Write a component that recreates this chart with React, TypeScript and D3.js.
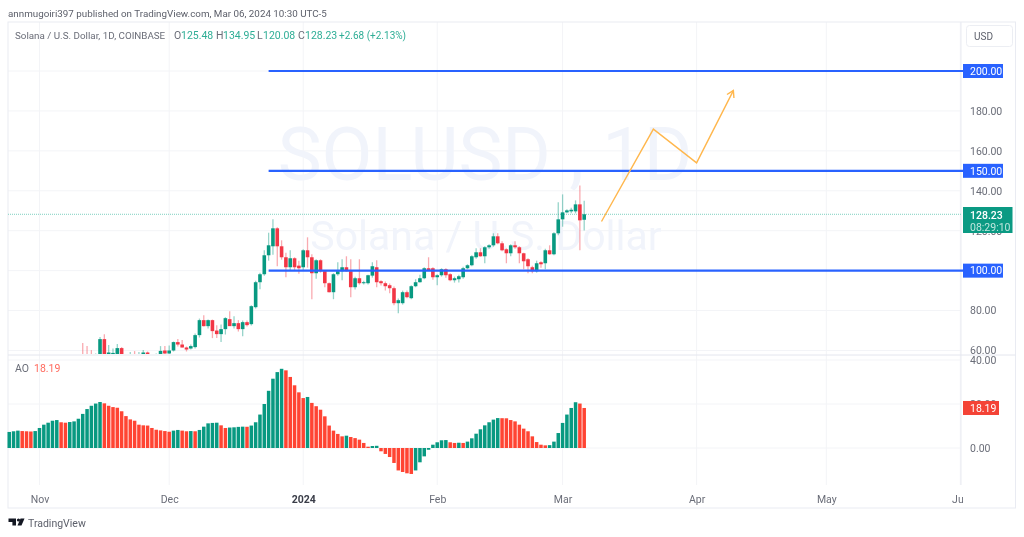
import { useRef, useEffect } from "react";
import * as d3 from "d3";

const FONT = "Roboto, sans-serif";
const GREEN = "#089981";
const RED = "#f23645";
const AO_RED = "#ff4433";
const BLUE = "#2962ff";
const GRID = "#f3f4f7";
const BORDER = "#e9ebf2";

const firstAoDate = new Date(Date.UTC(2023, 9, 25));
const firstCandleDate = new Date(Date.UTC(2023, 10, 11));

// daily candles from Nov 11, the earlier ones sit below the visible price range
const opens = [
  57, 57.5, 56, 55, 56, 65.7, 57.5, 57.5, 57, 61.2,
  55, 56, 57, 55.5, 57, 59, 57, 56.5, 58, 60,
  58.5, 60, 64.2, 63, 61.5, 61, 61.7, 67.7, 75.2, 72.2,
  75.2, 70, 68.2, 70.7, 75.7, 72.2, 73.7, 70.7, 74.2, 73.2,
  81.7, 94.2, 98.2, 107.7, 112.2, 121.2, 112.2, 106.7, 101.7, 106.2,
  102.5, 101.7, 110.2, 106.7, 98.7, 105.2, 99.7, 93.7, 89.2, 98.2,
  99.7, 101.7, 99.7, 91.7, 96.2, 93.7, 93.7, 97.5, 101.7, 94.7,
  93.7, 92.7, 91.2, 83.7, 83.7, 89.2, 86.2, 92.2, 94.2, 96.2,
  101.2, 101.2, 96.7, 97.7, 100.7, 98.2, 95.2, 95.7, 96.7, 101.2,
  102.7, 106.7, 109.2, 107.2, 111.7, 112.7, 117.2, 113.7, 110.7, 108.7,
  112.7, 111.7, 108.7, 105.7, 101.7, 99.7, 104.2, 103.7, 110.2, 108.2,
  118.7, 125.7, 129.2, 129.7, 129.7, 133.2, 125.48,
];
const highs = [
  63.8, 62.2, 60.2, 58.5, 66.7, 68.2, 62.7, 61, 63.2, 61.7,
  57.5, 59.2, 59.7, 59.2, 60.2, 59.5, 58.2, 58.5, 62.2, 62.2,
  62.5, 64.5, 65.7, 65.2, 62, 63, 68.5, 76, 77.7, 75.5,
  75.5, 72.7, 73, 76.7, 79.7, 77.2, 75.2, 75, 75, 82.7,
  95, 99, 110.2, 119, 125.7, 121.7, 115.2, 109, 110.2, 106.7,
  105, 110.7, 116.7, 108.2, 105.7, 105.7, 100, 94, 98.7, 104.2,
  105.7, 107.2, 105.7, 97, 105.7, 95, 98, 104.2, 105.2, 95.2,
  94.5, 93.5, 92, 86, 90, 90, 92.7, 95.7, 98, 101.7,
  106.7, 101.7, 98.2, 101.2, 101.2, 98.7, 97, 98, 102, 103.2,
  107.7, 111.2, 111.2, 112.2, 113.2, 118.7, 118.7, 114.7, 111.2, 113.2,
  114.7, 112.2, 109, 106.2, 102.5, 105, 104.7, 111, 112.7, 119.2,
  134.2, 138.2, 130.7, 131.5, 135.2, 142.7, 134.95,
];
const lows = [
  55, 55, 54, 54, 55, 55, 56, 56, 55, 56,
  53, 54, 54, 54, 55, 55, 54, 55, 57, 57,
  57, 59.5, 62, 61.5, 59.5, 60.5, 61, 66.5, 72, 71,
  66.2, 66.2, 64.2, 68, 73, 71, 69.5, 67.2, 72, 72.5,
  81, 90.7, 97.5, 105, 108, 102.2, 105.5, 96.7, 100, 100,
  98.5, 100, 101.5, 85.7, 96, 99, 91.7, 89, 85.7, 97.5,
  95.2, 99.5, 86.7, 90.5, 93, 93, 93, 96.5, 91.7, 92.5,
  90, 88.7, 82.7, 78.7, 83, 86.2, 85.7, 91.7, 94, 95.7,
  100, 95.5, 92.7, 97, 96.5, 94.7, 94, 94, 96, 100.7,
  102.2, 106, 107, 103.7, 111, 112, 113.2, 109.7, 103.7, 107.2,
  111, 103.7, 100.7, 98.7, 98.7, 99, 101.5, 100.7, 108, 107.7,
  117.7, 122, 128.7, 128.7, 128.7, 110.2, 120.08,
];
const closes = [
  56, 56, 55, 57, 65.7, 57.5, 59, 58.8, 61.2, 56.5,
  56, 57, 55.5, 57.5, 59, 57.5, 56.5, 58, 59.8, 58.5,
  60, 64.2, 63, 61.5, 60.5, 62.2, 67.7, 75.2, 72.2, 75.2,
  69.7, 68.2, 70.7, 76.2, 72.2, 73.7, 70.7, 74.2, 72.7, 82.2,
  94.2, 98.2, 107.7, 112.7, 121.2, 112.2, 106.7, 101.7, 106.2, 101.7,
  101.2, 110.2, 106.7, 98.7, 105.2, 99.7, 93.7, 89.2, 98.2, 99.7,
  101.7, 99.7, 91.7, 96.2, 93.7, 94.2, 97.7, 102.2, 94.2, 93.7,
  92.2, 91.2, 83.7, 85.2, 89.2, 86.7, 92.2, 94.2, 96.2, 101.2,
  100.2, 96.7, 97.7, 100.7, 97.7, 95.2, 96.2, 97.2, 101.2, 102.7,
  107.2, 109.2, 107.2, 111.7, 112.7, 117.2, 113.7, 110.2, 108.7, 112.7,
  111.7, 108.7, 104.7, 102.2, 99.7, 103.7, 103.2, 110.2, 108.2, 118.7,
  125.7, 129.2, 130.2, 130.5, 133.2, 125.2, 128.23,
];

// Awesome Oscillator, one value per day from Oct 25
const aoValues = [
  7.3, 7.6, 7.9, 7.7, 7.6, 7.5, 7.7, 9.1, 10.6, 11.5,
  12.4, 12.7, 11.7, 11.5, 11.8, 12.1, 13.3, 15.5, 17.7, 19.2,
  20.2, 20.9, 20.3, 19.2, 18.6, 18.3, 16.7, 14.5, 13, 12.4,
  10.6, 10.3, 10.2, 9.1, 8.3, 8, 7.7, 7.4, 7.9, 8.2,
  7.9, 7.6, 7.7, 7.6, 8.2, 9.7, 11.2, 11.4, 11.5, 10.3,
  9.1, 9.3, 9.4, 9.6, 9.7, 9.65, 10.2, 11.7, 15.2, 20,
  26, 31.5, 34.5, 36, 35.3, 32.3, 28.5, 25.3, 22.7, 23.2,
  20.5, 19, 17.4, 14.4, 10.2, 7.9, 6.4, 5.3, 5.6, 5,
  4.5, 3.8, 2.3, 0.6, 0.9, 1, -1.5, -2.7, -4.1, -6.8,
  -10.2, -10.9, -11.5, -11.8, -10.2, -6.5, -3.8, -0.8, 1.5, 2.6,
  3.5, 3.6, 2.6, 2.3, 2.4, 2.3, 2.9, 4.4, 6.5, 8.5,
  10.3, 11.7, 12.9, 13.6, 13.55, 13.5, 12.7, 12.1, 10.6, 8.8,
  7.6, 5.3, 2.7, 1.5, 1.2, 1.3, 2.9, 6.8, 11.4, 15.2,
  18.2, 20.8, 20.2, 18.19,
];

const priceTicks = [60, 80, 100, 120, 140, 160, 180, 200];
const aoTicks = [0, 20, 40];
const levels = [100, 150, 200];
const levelStart = new Date(Date.UTC(2023, 11, 24));
const lastPrice = 128.23;
const lastAo = 18.19;

const monthDates = [
  new Date(Date.UTC(2023, 10, 1)),
  new Date(Date.UTC(2023, 11, 1)),
  new Date(Date.UTC(2024, 0, 1)),
  new Date(Date.UTC(2024, 1, 1)),
  new Date(Date.UTC(2024, 2, 1)),
  new Date(Date.UTC(2024, 3, 1)),
  new Date(Date.UTC(2024, 4, 1)),
  new Date(Date.UTC(2024, 5, 1)),
];
const monthLabels = ["Nov", "Dec", "2024", "Feb", "Mar", "Apr", "May", "Jun"];

// hand-drawn forecast arrow
const arrowDates = [
  new Date(Date.UTC(2024, 2, 10)),
  new Date(Date.UTC(2024, 2, 22)),
  new Date(Date.UTC(2024, 3, 1)),
  new Date(Date.UTC(2024, 3, 9, 12)),
];
const arrowPrices = [124.6, 170.9, 154, 190.2];

const legendParts = [
  { text: "Solana / U.S. Dollar, 1D, COINBASE", x: 15, up: false, size: 9.8 },
  { text: "O", x: 174, up: false, size: 10.5 },
  { text: "125.48", x: 181, up: true, size: 10.5 },
  { text: "H", x: 216, up: false, size: 10.5 },
  { text: "134.95", x: 223, up: true, size: 10.5 },
  { text: "L", x: 257, up: false, size: 10.5 },
  { text: "120.08", x: 263, up: true, size: 10.5 },
  { text: "C", x: 298, up: false, size: 10.5 },
  { text: "128.23", x: 305, up: true, size: 10.5 },
  { text: "+2.68 (+2.13%)", x: 339, up: true, size: 10 },
];

export default function App() {
  const svgRef = useRef<SVGSVGElement>(null);

  useEffect(() => {
    if (!svgRef.current) return;
    const svg = d3.select(svgRef.current);
    svg.selectAll("*").remove();
    svg.attr("font-family", FONT);

    const left = 8;
    const axisX = 961;
    const right = 1015.5;
    const top = 22;
    const paneSplit = 355;
    const timeTop = 485;
    const bottom = 508;

    const x = d3
      .scaleUtc()
      .domain([monthDates[0]!, monthDates[7]!])
      .range([39.5, 960.3]);
    const y = d3.scaleLinear().domain([60, 200]).range([350.5, 71]);
    const aoY = d3.scaleLinear().domain([0, 40]).range([448, 360]);

    const defs = svg.append("defs");
    defs
      .append("clipPath")
      .attr("id", "price-clip")
      .append("rect")
      .attr("x", left)
      .attr("y", top)
      .attr("width", axisX - left)
      .attr("height", 354 - top);
    defs
      .append("clipPath")
      .attr("id", "time-clip")
      .append("rect")
      .attr("x", left)
      .attr("y", timeTop)
      .attr("width", 963 - left)
      .attr("height", bottom - timeTop);

    // Grid
    const grid = svg.append("g").attr("stroke", GRID).attr("stroke-width", 1);
    for (const d of monthDates) {
      grid
        .append("line")
        .attr("x1", x(d))
        .attr("x2", x(d))
        .attr("y1", top)
        .attr("y2", timeTop);
    }
    for (const p of priceTicks) {
      grid
        .append("line")
        .attr("x1", left)
        .attr("x2", axisX)
        .attr("y1", y(p))
        .attr("y2", y(p));
    }
    for (const v of aoTicks) {
      grid
        .append("line")
        .attr("x1", left)
        .attr("x2", axisX)
        .attr("y1", aoY(v))
        .attr("y2", aoY(v));
    }

    // Frame
    svg
      .append("rect")
      .attr("x", left)
      .attr("y", top)
      .attr("width", right - left)
      .attr("height", bottom - top)
      .attr("fill", "none")
      .attr("stroke", BORDER);
    svg
      .append("line")
      .attr("x1", axisX)
      .attr("x2", axisX)
      .attr("y1", top)
      .attr("y2", timeTop)
      .attr("stroke", BORDER);
    svg
      .append("line")
      .attr("x1", left)
      .attr("x2", right)
      .attr("y1", paneSplit)
      .attr("y2", paneSplit)
      .attr("stroke", "#e4e6ee");

    // Watermark
    svg
      .append("text")
      .attr("x", 485)
      .attr("y", 180)
      .attr("text-anchor", "middle")
      .attr("font-size", 74)
      .attr("fill", "#f1f4fb")
      .text("SOLUSD , 1D");
    svg
      .append("text")
      .attr("x", 486)
      .attr("y", 250)
      .attr("text-anchor", "middle")
      .attr("font-size", 41)
      .attr("fill", "#f1f4fb")
      .text("Solana / U.S. Dollar");

    // Last price line
    svg
      .append("line")
      .attr("x1", left)
      .attr("x2", axisX)
      .attr("y1", y(lastPrice))
      .attr("y2", y(lastPrice))
      .attr("stroke", "#7fd0c0")
      .attr("stroke-width", 1)
      .attr("stroke-dasharray", "1 1");

    // Candles
    const candles = svg.append("g").attr("clip-path", "url(#price-clip)");
    opens.forEach((open, i) => {
      const close = closes[i]!;
      const cx = x(d3.utcDay.offset(firstCandleDate, i));
      const color = close >= open ? GREEN : RED;
      candles
        .append("line")
        .attr("x1", cx)
        .attr("x2", cx)
        .attr("y1", y(highs[i]!))
        .attr("y2", y(lows[i]!))
        .attr("stroke", color)
        .attr("stroke-width", 1.3)
        .attr("opacity", 0.42);
      candles
        .append("rect")
        .attr("x", cx - 1.8)
        .attr("width", 3.6)
        .attr("y", y(Math.max(open, close)))
        .attr("height", Math.max(1, Math.abs(y(open) - y(close))))
        .attr("fill", color);
    });

    // Horizontal levels
    for (const level of levels) {
      svg
        .append("line")
        .attr("x1", x(levelStart))
        .attr("x2", axisX + 2)
        .attr("y1", y(level))
        .attr("y2", y(level))
        .attr("stroke", BLUE)
        .attr("stroke-width", 2.2);
    }

    // Forecast arrow
    const points = arrowDates.map((d, i): [number, number] => [
      x(d),
      y(arrowPrices[i]!),
    ]);
    const arrowColor = "#ffb74d";
    svg
      .append("path")
      .attr("d", d3.line()(points))
      .attr("fill", "none")
      .attr("stroke", arrowColor)
      .attr("stroke-width", 1.4);
    const tip = points[3]!;
    const prev = points[2]!;
    const angle = Math.atan2(tip[1] - prev[1], tip[0] - prev[0]);
    const head = [-0.55, 0.55].map((a): [number, number] => [
      tip[0] - 7.5 * Math.cos(angle + a),
      tip[1] - 7.5 * Math.sin(angle + a),
    ]);
    svg
      .append("path")
      .attr("d", d3.line()([head[0]!, tip, head[1]!]))
      .attr("fill", "none")
      .attr("stroke", arrowColor)
      .attr("stroke-width", 1.4);

    // AO histogram
    const ao = svg.append("g");
    aoValues.forEach((v, i) => {
      const cx = x(d3.utcDay.offset(firstAoDate, i));
      const rising = i === 0 || v > aoValues[i - 1]!;
      ao.append("rect")
        .attr("x", cx - 1.75)
        .attr("width", 3.5)
        .attr("y", Math.min(aoY(v), aoY(0)))
        .attr("height", Math.abs(aoY(v) - aoY(0)))
        .attr("fill", rising ? GREEN : AO_RED);
    });

    // Axes
    const styleAxis = (g: d3.Selection<SVGGElement, unknown, null, undefined>) => {
      g.select(".domain").remove();
      g.selectAll(".tick line").remove();
      g.selectAll("text")
        .attr("fill", "#6a6d78")
        .attr("font-size", 10.5)
        .attr("font-family", FONT);
    };
    svg
      .append("g")
      .attr("transform", `translate(${axisX},0)`)
      .call(
        d3
          .axisRight(y)
          .tickValues(priceTicks)
          .tickSize(0)
          .tickPadding(9)
          .tickFormat((d) => d3.format(".2f")(d as number)),
      )
      .call(styleAxis);
    svg
      .append("g")
      .attr("transform", `translate(${axisX},0)`)
      .call(
        d3
          .axisRight(aoY)
          .tickValues(aoTicks)
          .tickSize(0)
          .tickPadding(9)
          .tickFormat((d) => d3.format(".2f")(d as number)),
      )
      .call(styleAxis);
    const timeAxis = svg
      .append("g")
      .attr("clip-path", "url(#time-clip)")
      .append("g")
      .attr("transform", `translate(0,${timeTop})`)
      .call(
        d3
          .axisBottom(x)
          .tickValues(monthDates)
          .tickSize(0)
          .tickPadding(7)
          .tickFormat((_, i) => monthLabels[i]!),
      )
      .call(styleAxis);
    timeAxis.selectAll("text").attr("dy", "1.05em");
    timeAxis
      .selectAll<SVGTextElement, Date>("text")
      .filter((_, i) => monthLabels[i] === "2024")
      .attr("font-weight", 700)
      .attr("fill", "#3a3d48");

    // Price badges
    const badge = (
      by: number,
      width: number,
      height: number,
      fill: string,
      label: string,
      color = "#ffffff",
    ) => {
      svg
        .append("rect")
        .attr("x", 963)
        .attr("y", by - height / 2)
        .attr("width", width)
        .attr("height", height)
        .attr("fill", fill);
      svg
        .append("text")
        .attr("x", 970)
        .attr("y", by + 3.8)
        .attr("font-size", 10.5)
        .attr("fill", color)
        .text(label);
    };
    for (const level of levels) {
      badge(y(level), 40, 14, BLUE, d3.format(".2f")(level));
    }
    badge(aoY(lastAo), 36, 14, "#f44336", d3.format(".2f")(lastAo));

    svg
      .append("rect")
      .attr("x", 963)
      .attr("y", 207)
      .attr("width", 49.5)
      .attr("height", 26)
      .attr("fill", "#0b9a83");
    svg
      .append("text")
      .attr("x", 970)
      .attr("y", 218.5)
      .attr("font-size", 10.5)
      .attr("font-weight", 500)
      .attr("fill", "#ffffff")
      .text(d3.format(".2f")(lastPrice));
    svg
      .append("text")
      .attr("x", 970)
      .attr("y", 230.5)
      .attr("font-size", 10.5)
      .attr("fill", "#bfe6de")
      .text("08:29:10");

    // Currency button
    svg
      .append("rect")
      .attr("x", 966.5)
      .attr("y", 25.5)
      .attr("width", 46)
      .attr("height", 21)
      .attr("rx", 3)
      .attr("fill", "#ffffff")
      .attr("stroke", "#eceef3");
    svg
      .append("text")
      .attr("x", 974)
      .attr("y", 39.5)
      .attr("font-size", 10)
      .attr("fill", "#5d606b")
      .text("USD");

    // Header and legends
    svg
      .append("text")
      .attr("x", 8)
      .attr("y", 16.5)
      .attr("font-size", 9.8)
      .attr("fill", "#5d606b")
      .text("annmugoiri397 published on TradingView.com, Mar 06, 2024 10:30 UTC-5");
    for (const part of legendParts) {
      svg
        .append("text")
        .attr("x", part.x)
        .attr("y", 38.5)
        .attr("font-size", part.size)
        .attr("fill", part.up ? "#2fae96" : "#6a6d78")
        .text(part.text);
    }
    svg
      .append("text")
      .attr("x", 15)
      .attr("y", 372)
      .attr("font-size", 10.5)
      .attr("fill", "#6a6d78")
      .text("AO");
    svg
      .append("text")
      .attr("x", 34)
      .attr("y", 372)
      .attr("font-size", 10.5)
      .attr("fill", "#ff6a5e")
      .text(d3.format(".2f")(lastAo));

    // TradingView mark
    const logo = svg.append("g").attr("fill", "#131722");
    logo.append("path").attr("d", "M8.5 518.5h7.5v7h-3.6v-3.6h-3.9z");
    logo.append("circle").attr("cx", 18.5).attr("cy", 520).attr("r", 1.6);
    logo.append("path").attr("d", "M20.5 518.5h4l-3 7h-4z");
    svg
      .append("text")
      .attr("x", 28)
      .attr("y", 526.5)
      .attr("font-size", 10.5)
      .attr("fill", "#5d606b")
      .text("TradingView");
  }, []);

  return (
    <svg
      ref={svgRef}
      width={1024}
      height={537}
      style={{
        position: "absolute",
        left: 0,
        top: 0,
        background: "#ffffff",
        filter: "blur(0.35px)",
      }}
    />
  );
}
